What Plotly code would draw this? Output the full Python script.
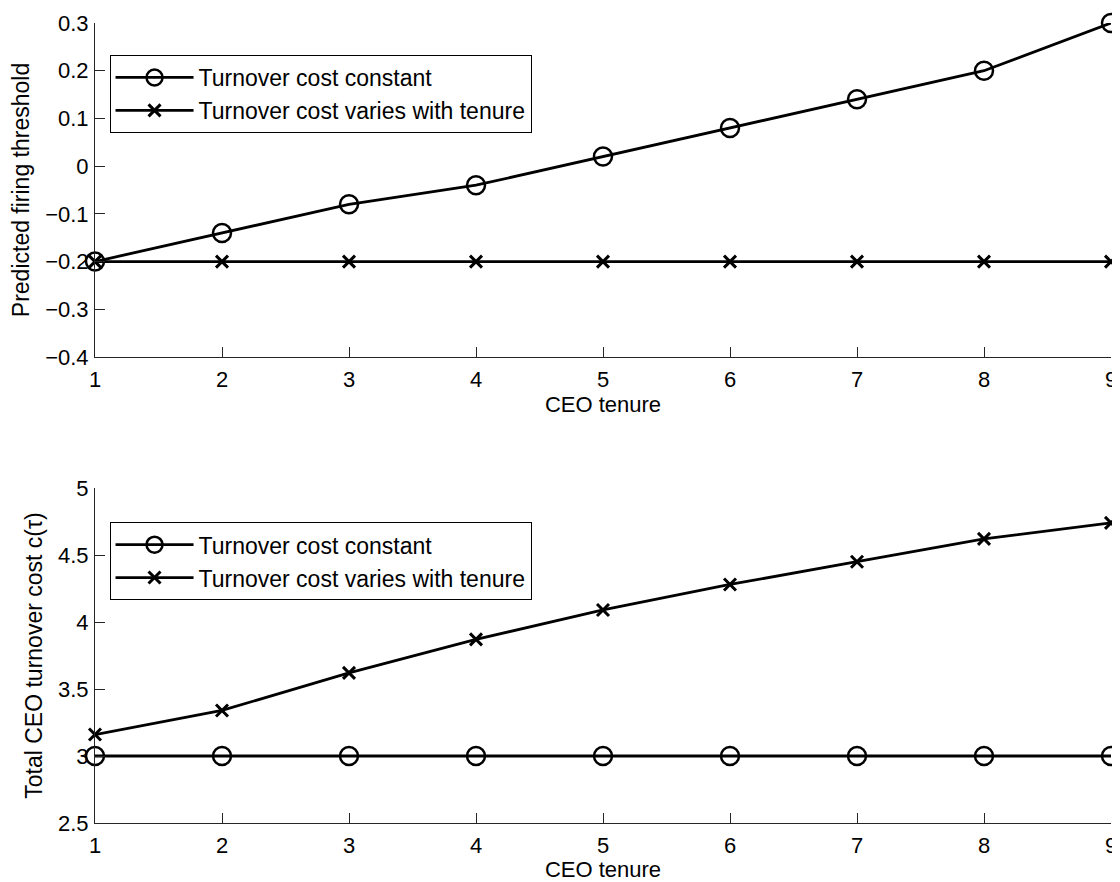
import plotly.graph_objects as go
from plotly.subplots import make_subplots

tenure = [1, 2, 3, 4, 5, 6, 7, 8, 9]

# Top panel: predicted firing threshold
threshold_constant = [-0.20, -0.14, -0.08, -0.04, 0.02, 0.08, 0.14, 0.20, 0.30]
threshold_varies = [-0.20, -0.20, -0.20, -0.20, -0.20, -0.20, -0.20, -0.20, -0.20]

# Bottom panel: total CEO turnover cost
cost_constant = [3, 3, 3, 3, 3, 3, 3, 3, 3]
cost_varies = [3.16, 3.34, 3.62, 3.87, 4.09, 4.28, 4.45, 4.62, 4.74]

name_const = "Turnover cost constant"
name_var = "Turnover cost varies with tenure"

FONT = "Liberation Sans, Arial, Helvetica, sans-serif"
AX = "#262626"

fig = make_subplots(rows=2, cols=1, vertical_spacing=0.1)

circ = dict(symbol="circle-open", size=18, color="black", line=dict(width=2.5, color="black"))
cross = dict(symbol="x-thin-open", size=12, color="black", line=dict(width=3, color="black"))
lw = dict(color="black", width=2.8)

fig.add_trace(go.Scatter(x=tenure, y=threshold_constant, mode="lines+markers", name=name_const,
                         line=lw, marker=circ, cliponaxis=False, legend="legend"), row=1, col=1)
fig.add_trace(go.Scatter(x=tenure, y=threshold_varies, mode="lines+markers", name=name_var,
                         line=lw, marker=cross, cliponaxis=False, legend="legend"), row=1, col=1)
fig.add_trace(go.Scatter(x=tenure, y=cost_constant, mode="lines+markers", name=name_const,
                         line=lw, marker=circ, cliponaxis=False, legend="legend2"), row=2, col=1)
fig.add_trace(go.Scatter(x=tenure, y=cost_varies, mode="lines+markers", name=name_var,
                         line=lw, marker=cross, cliponaxis=False, legend="legend2"), row=2, col=1)

axis_common = dict(showline=True, linecolor=AX, linewidth=1, ticks="inside", ticklen=10,
                   tickcolor=AX, tickwidth=1, showgrid=False, zeroline=False,
                   tickfont=dict(family=FONT, size=22, color="black"), mirror=False)

fig.update_xaxes(**axis_common, range=[1, 9], tickmode="array", tickvals=tenure,
                 ticklabelstandoff=3,
                 title=dict(text="CEO tenure", font=dict(family=FONT, size=22, color="black"), standoff=2))
fig.update_yaxes(**axis_common, ticklabelstandoff=1)

fig.update_yaxes(row=1, col=1, range=[-0.4, 0.3], dtick=0.1, tick0=0,
                 title=dict(text="Predicted firing threshold", font=dict(family=FONT, size=23, color="black"), standoff=9))
fig.update_yaxes(row=2, col=1, range=[2.5, 5], dtick=0.5, tick0=0,
                 title=dict(text="Total CEO turnover cost c(τ)", font=dict(family=FONT, size=23, color="black"), standoff=8))

fig.update_layout(
    xaxis=dict(domain=[0, 1]),
    yaxis=dict(domain=[0.5825, 1.0]),
    xaxis2=dict(domain=[0, 1]),
    yaxis2=dict(domain=[0.0, 0.41875]),
)

leg = dict(bgcolor="white", bordercolor="black", borderwidth=1,
           font=dict(family=FONT, size=23, color="black"),
           xanchor="left", yanchor="top", itemwidth=78, tracegroupgap=0)
fig.update_layout(
    legend=dict(**leg, x=0.0143, y=0.96),
    legend2=dict(**leg, x=0.0143, y=0.376),
    width=1112, height=874,
    margin=dict(l=87, r=9, t=15, b=59, autoexpand=False),
    plot_bgcolor="white", paper_bgcolor="white",
    font=dict(family=FONT, color="black"),
)

fig.write_html("out.html")
